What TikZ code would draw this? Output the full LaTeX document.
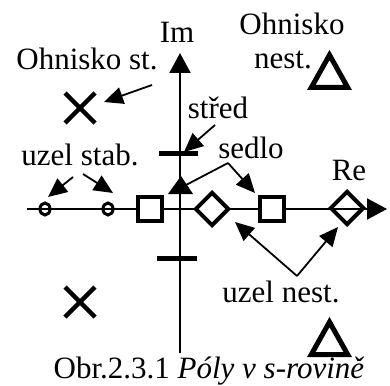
\documentclass[tikz,border=0pt]{standalone}
\usepackage{fontspec}
\setmainfont{Liberation Serif}
\usetikzlibrary{arrows.meta,shapes.geometric}
\begin{document}
\begin{tikzpicture}[x=1pt,y=-1pt,
  lbl/.style={font=\fontsize{31}{36}\selectfont, inner sep=0pt, anchor=base},
  axis/.style={line width=2pt, -{Triangle[length=20pt,width=21pt]}},
  ann/.style={line width=1.8pt, -{Triangle[length=19pt,width=17pt]}},
  link/.style={line width=1.8pt},
  sqpole/.style={rectangle, draw, line width=4pt, fill=white, minimum size=24pt, inner sep=0pt, line join=miter},
  diapole/.style={diamond, draw, line width=4pt, minimum width=34pt, minimum height=34pt, inner sep=0pt, line join=miter},
  circpole/.style={ellipse, draw, line width=3pt, minimum width=10pt, minimum height=12pt, inner sep=0pt},
  crosspole/.style={line width=4.5pt},
  tripole/.style={line width=5pt, line join=miter},
  barpole/.style={line width=5pt},
]
\useasboundingbox (0,0) rectangle (390,385);

% axes
\coordinate (reS) at (27,209);
\coordinate (reE) at (387,209);
\coordinate (imS) at (180,353);
\coordinate (imE) at (180,53);
\draw[axis] (reS) -- (reE);
\draw[axis] (imS) -- (imE);

% poles
\node[circpole] (c1) at (45,209) {};
\node[circpole] (c2) at (108,209) {};
\node[sqpole] (s1) at (150,209) {};
\node[diapole, fill=white] (d1) at (212,209) {};
\node[sqpole] (s2) at (272,209) {};
\node[diapole] (d2) at (347,208) {};

% centre bars
\draw[barpole] (159,153) coordinate (b1w) -- (198,153) coordinate (b1e);
\draw[barpole] (157,258) coordinate (b2w) -- (197,258) coordinate (b2e);

% crosses
\coordinate (x1) at (80,108);
\coordinate (x2) at (80,302);
\draw[crosspole] ([shift={(-15,-15)}]x1) -- ([shift={(15,15)}]x1);
\draw[crosspole] ([shift={(-15,15)}]x1) -- ([shift={(15,-15)}]x1);
\draw[crosspole] ([shift={(-15,-15)}]x2) -- ([shift={(15,15)}]x2);
\draw[crosspole] ([shift={(-15,15)}]x2) -- ([shift={(15,-15)}]x2);

% triangles
\draw[tripole] (329.5,55) -- (347.7,87.5) -- (311.3,87.5) -- cycle;
\draw[tripole] (329.5,322) -- (347.7,354.5) -- (311.3,354.5) -- cycle;

% labels
\node[lbl] (im) at (177,43) {Im};
\node[lbl] (re) at (349,180) {Re};
\node[lbl] (ohst) at (87,70) {Ohnisko st.};
\node[lbl] (ohn1) at (292,35) {Ohnisko};
\node[lbl] (ohn2) at (283,69) {nest.};
\node[lbl] (stred) at (218,118) {střed};
\node[lbl] (sedlo) at (251,158) {sedlo};
\node[lbl] (ustab) at (80,165) {uzel stab.};
\node[lbl] (unest) at (281,302) {uzel nest.};
\node[lbl] (cap) at (209,378) {Obr.2.3.1 \textit{Póly v s-rovině}};

% annotation arrows
\coordinate (a1s) at (152,85);  \coordinate (a1e) at (104,102);
\draw[ann] (a1s) -- (a1e);
\coordinate (a2s) at (73,177);  \coordinate (a2e) at (48,197);
\draw[ann] (a2s) -- (a2e);
\coordinate (a3s) at (83,174);  \coordinate (a3e) at (113,193);
\draw[ann] (a3s) -- (a3e);
\coordinate (a4s) at (215,125); \coordinate (a4e) at (184,152);
\draw[ann] (a4s) -- (a4e);
\coordinate (sv) at (228,163);
\coordinate (sr) at (255,193);
\coordinate (sl) at (186,185);
\draw[ann] (sv) -- (sr);
\draw[link] (sv) -- (sl);
\fill (181,176) -- (193,194) -- (168,194) -- cycle;
\coordinate (uv) at (297,276);
\coordinate (ul) at (235,222);
\coordinate (ur) at (338,227);
\draw[ann] (uv) -- (ul);
\draw[ann] (uv) -- (ur);
\end{tikzpicture}
\end{document}
